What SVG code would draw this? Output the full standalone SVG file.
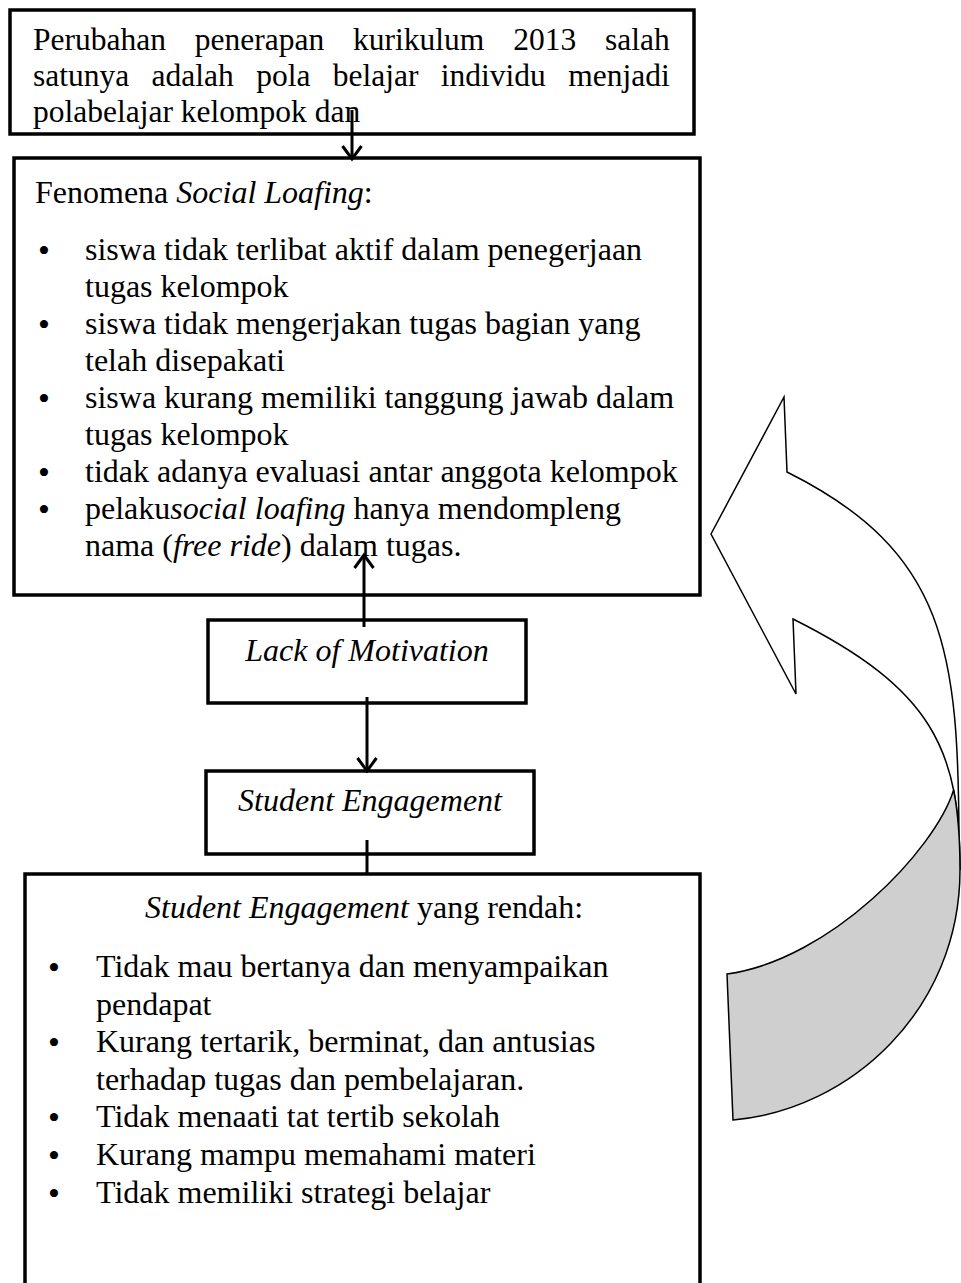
<svg xmlns="http://www.w3.org/2000/svg" width="961" height="1283" viewBox="0 0 961 1283">
<style>
.box{fill:#fff;stroke:#000;stroke-width:3.5}
.t{font-family:"Liberation Serif","Times New Roman",serif;font-size:32px;fill:#000}
.i{font-style:italic}
.b{font-family:"Liberation Serif","Times New Roman",serif;font-size:34px;fill:#000;text-anchor:middle}
.conn{stroke:#000;stroke-width:3;fill:none}
.shape{stroke:#000;stroke-width:1.5;stroke-linejoin:miter}
</style>
<defs>
<marker id="arr" viewBox="0 0 18 22" refX="15" refY="11" markerWidth="18" markerHeight="22" markerUnits="userSpaceOnUse" orient="auto">
<path d="M2,1.5 L15,11 L2,20.5" fill="none" stroke="#000" stroke-width="3"/>
</marker>
</defs>
<rect width="961" height="1283" fill="#fff"/>

<g id="node-kurikulum">
<rect class="box" x="10" y="10" width="684" height="124"/>
<text class="t" style="font-size:31.5px" x="33" y="50" word-spacing="21">Perubahan penerapan kurikulum 2013 salah</text>
<text class="t" style="font-size:31.5px" x="33" y="86" word-spacing="14.5">satunya adalah pola belajar individu menjadi</text>
<text class="t" style="font-size:31.5px" x="33" y="122">polabelajar kelompok dan</text>
</g>

<g id="node-social-loafing">
<rect class="box" x="14" y="158" width="686" height="437"/>
<text class="t" x="35" y="203">Fenomena <tspan class="i">Social Loafing</tspan>:</text>
<text class="b" x="44" y="262">•</text>
<text class="t" x="85" y="260">siswa tidak terlibat aktif dalam penegerjaan</text>
<text class="t" x="85" y="297">tugas kelompok</text>
<text class="b" x="44" y="336">•</text>
<text class="t" x="85" y="334">siswa tidak mengerjakan tugas bagian yang</text>
<text class="t" x="85" y="371">telah disepakati</text>
<text class="b" x="44" y="410">•</text>
<text class="t" x="85" y="408">siswa kurang memiliki tanggung jawab dalam</text>
<text class="t" x="85" y="445">tugas kelompok</text>
<text class="b" x="44" y="484">•</text>
<text class="t" x="85" y="482">tidak adanya evaluasi antar anggota kelompok</text>
<text class="b" x="44" y="521">•</text>
<text class="t" x="85" y="519">pelaku<tspan class="i">social loafing</tspan> hanya mendompleng</text>
<text class="t" x="85" y="556">nama (<tspan class="i">free ride</tspan>) dalam tugas.</text>
</g>

<g id="node-lack-motivation">
<rect class="box" x="208" y="620" width="318" height="83"/>
<text class="t i" x="367" y="661" text-anchor="middle">Lack of Motivation</text>
</g>

<g id="node-student-engagement">
<rect class="box" x="206" y="771" width="328" height="83"/>
<text class="t i" x="370" y="811" text-anchor="middle">Student Engagement</text>
</g>

<g id="node-engagement-rendah">
<rect class="box" x="25" y="874" width="675" height="420"/>
<text class="t" x="145" y="918"><tspan class="i">Student Engagement</tspan> yang rendah:</text>
<text class="b" x="54" y="979">•</text>
<text class="t" x="96" y="977">Tidak mau bertanya dan menyampaikan</text>
<text class="t" x="96" y="1014.5">pendapat</text>
<text class="b" x="54" y="1054">•</text>
<text class="t" x="96" y="1052">Kurang tertarik, berminat, dan antusias</text>
<text class="t" x="96" y="1089.5">terhadap tugas dan pembelajaran.</text>
<text class="b" x="54" y="1129">•</text>
<text class="t" x="96" y="1127">Tidak menaati tat tertib sekolah</text>
<text class="b" x="54" y="1167">•</text>
<text class="t" x="96" y="1165">Kurang mampu memahami materi</text>
<text class="b" x="54" y="1205">•</text>
<text class="t" x="96" y="1203">Tidak memiliki strategi belajar</text>
</g>

<g id="node-curved-arrow">
<path class="shape" fill="#fff" d="M711,534 L784,397 L787,472 C947,552 959,650 959,850 L960,870 C960,750 933,689 793,619 L796,694 Z"/>
<path class="shape" fill="#cfcfcf" d="M953.6,790 C958.3,813.7 960,840 960,870 C960,1010 850,1110 733,1120 L727,974 C830,960 935,850 953.6,790 Z"/>
</g>

<g id="connectors">
<line class="conn" x1="352" y1="110" x2="352" y2="159" marker-end="url(#arr)"/>
<line class="conn" x1="364" y1="627" x2="364" y2="555" marker-end="url(#arr)"/>
<line class="conn" x1="367" y1="697" x2="367" y2="771" marker-end="url(#arr)"/>
<line class="conn" x1="367" y1="840" x2="367" y2="874"/>
</g>
</svg>
